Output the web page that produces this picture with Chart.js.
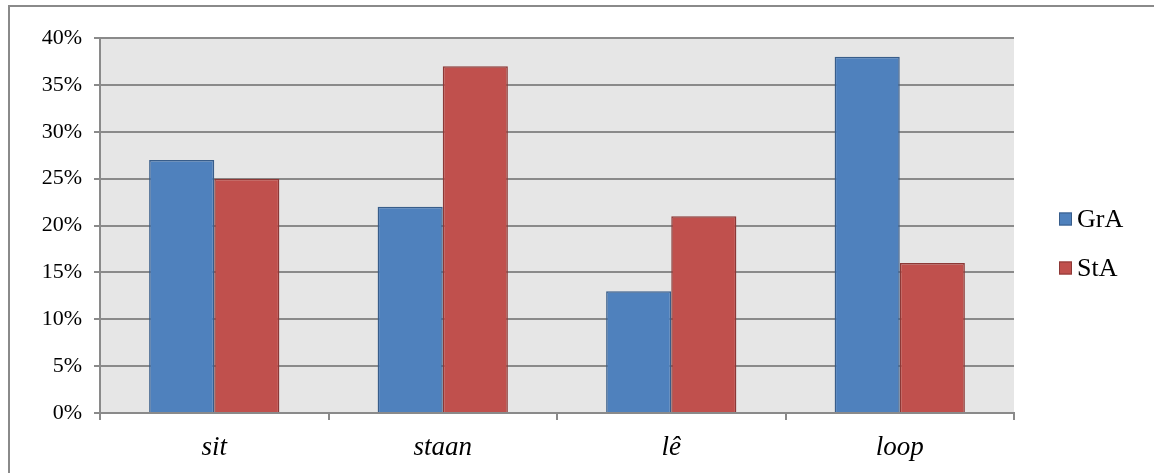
<!DOCTYPE html>
<html>
<head>
<meta charset="utf-8">
<title>GrA / StA</title>
<script src="https://cdn.jsdelivr.net/npm/chart.js@4.4.1/dist/chart.umd.min.js"></script>
<style>
  html, body { margin: 0; padding: 0; background: #ffffff; }
  #wrap { position: relative; width: 1154px; height: 473px; }
</style>
</head>
<body>
<div id="wrap"><canvas id="chart" width="1154" height="473"></canvas></div>
<script>
// Verbs on the category axis
const categories = ['sit', 'staan', 'lê', 'loop'];
// Share of each verb per variety, in percent
const grA = [27, 22, 13, 38];
const stA = [25, 37, 21, 16];
// Value axis range and step, in percent
const yTicks = { min: 0, max: 40, step: 5 };

const SERIF = '"Liberation Serif", "Times New Roman", serif';
const GRID = '#8a8a8a';

// Grey plot background, outer frame and right-hand legend
const frameAndLegend = {
  id: 'frameAndLegend',
  beforeDraw(chart) {
    const { ctx, chartArea: a } = chart;
    ctx.save();
    ctx.fillStyle = '#e6e6e6';
    ctx.fillRect(a.left, a.top, a.right - a.left, a.bottom - a.top);
    ctx.restore();
  },
  afterDraw(chart) {
    const ctx = chart.ctx;
    ctx.save();
    // frame
    ctx.strokeStyle = GRID;
    ctx.lineWidth = 2;
    ctx.beginPath();
    ctx.moveTo(9, chart.height);
    ctx.lineTo(9, 6);
    ctx.lineTo(chart.width, 6);
    ctx.stroke();
    // legend
    const x0 = 1059, ys = [219, 268], size = 13;
    chart.data.datasets.forEach((ds, i) => {
      const y = ys[i];
      ctx.fillStyle = ds.backgroundColor;
      ctx.fillRect(x0, y - size / 2, size, size);
      ctx.strokeStyle = ds.borderColor;
      ctx.lineWidth = 1;
      ctx.strokeRect(x0 + 0.5, y - size / 2 + 0.5, size - 1, size - 1);
      ctx.fillStyle = '#000';
      ctx.font = '26px ' + SERIF;
      ctx.textBaseline = 'middle';
      ctx.textAlign = 'left';
      ctx.fillText(ds.label, x0 + size + 5, y + 1);
    });
    ctx.restore();
  }
};

new Chart(document.getElementById('chart'), {
  type: 'bar',
  data: {
    labels: categories,
    datasets: [
      { label: 'GrA', data: grA, backgroundColor: '#4f81bd', borderColor: '#385d8a', borderWidth: 1.5 },
      { label: 'StA', data: stA, backgroundColor: '#c0504d', borderColor: '#8c3836', borderWidth: 1.5 }
    ]
  },
  options: {
    responsive: false,
    animation: false,
    devicePixelRatio: 1,
    layout: { padding: { left: 0, top: 38, right: 140, bottom: 0 } },
    plugins: { legend: { display: false }, tooltip: { enabled: false } },
    datasets: { bar: { categoryPercentage: 0.57, barPercentage: 1.0 } },
    scales: {
      x: {
        offset: true,
        afterFit(scale) { scale.height = 60; },
        grid: { offset: true, drawOnChartArea: false, drawTicks: true, tickLength: 7, color: GRID, lineWidth: 2 },
        border: { display: true, color: GRID, width: 2 },
        ticks: { color: '#000', padding: 12, font: { family: SERIF, size: 27, style: 'italic' } }
      },
      y: {
        min: yTicks.min,
        max: yTicks.max,
        afterFit(scale) { scale.width = 100; },
        grid: { color: GRID, lineWidth: 2, tickLength: 6, drawTicks: true },
        border: { display: true, color: GRID, width: 2 },
        ticks: {
          stepSize: yTicks.step,
          color: '#000',
          padding: 12,
          font: { family: SERIF, size: 22 },
          callback: v => v + '%'
        }
      }
    }
  },
  plugins: [frameAndLegend]
});
</script>
</body>
</html>
